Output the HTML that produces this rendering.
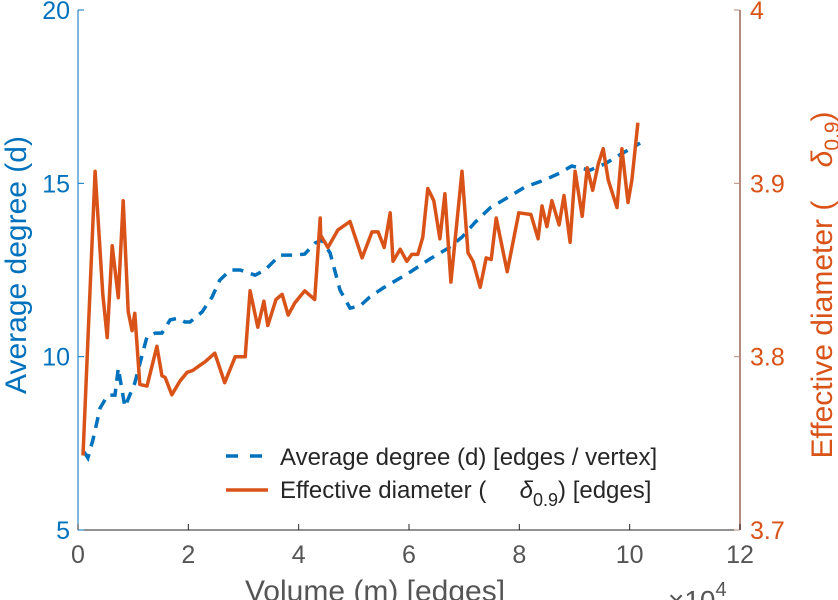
<!DOCTYPE html>
<html><head><meta charset="utf-8"><style>
body{margin:0;background:#fff;}
svg{display:block;font-family:"Liberation Sans",sans-serif;}
</style></head><body>
<svg id="chart" width="838" height="600" viewBox="0 0 838 600"></svg>
<script>
const tickX=[0,2,4,6,8,10,12];
const tickL=[5,10,15,20];
const tickR=[3.7,3.8,3.9,4];
const tickRLabels=["3.7","3.8","3.9","4"];
const degX=[0.11,0.18,0.27,0.40,0.54,0.67,0.73,0.85,1.03,1.21,1.25,1.40,1.52,1.67,1.81,1.94,2.03,2.25,2.43,2.57,2.76,2.94,3.21,3.39,3.66,3.93,4.11,4.30,4.42,4.57,4.75,4.93,5.11,5.29,5.53,5.84,6.05,6.38,6.71,6.96,7.20,7.47,7.83,8.10,8.46,8.74,8.95,9.28,9.55,9.82,10.19];
const degY=[7.25,7.08,7.60,8.52,8.89,8.89,9.67,8.55,9.24,10.34,10.57,10.68,10.68,11.06,11.11,11.00,11.00,11.29,11.72,12.21,12.50,12.50,12.35,12.50,12.93,12.93,12.96,13.28,13.36,12.99,11.92,11.40,11.46,11.72,11.98,12.27,12.47,12.82,13.13,13.45,13.88,14.29,14.63,14.89,15.10,15.30,15.50,15.38,15.56,15.82,16.16];
const diaX=[0.09,0.31,0.45,0.53,0.62,0.73,0.82,0.91,0.98,1.03,1.12,1.25,1.43,1.52,1.58,1.70,1.85,1.98,2.08,2.21,2.30,2.48,2.66,2.85,3.03,3.12,3.26,3.37,3.44,3.59,3.70,3.81,3.93,4.11,4.29,4.39,4.40,4.53,4.71,4.93,5.15,5.33,5.44,5.55,5.66,5.71,5.84,5.96,6.05,6.16,6.25,6.34,6.45,6.56,6.65,6.76,6.96,7.07,7.16,7.29,7.40,7.49,7.58,7.78,7.99,8.21,8.34,8.41,8.50,8.59,8.72,8.81,8.92,9.01,9.14,9.23,9.33,9.43,9.52,9.61,9.66,9.77,9.86,9.97,10.04,10.15,10.24];
const diaY=[3.743,3.907,3.836,3.811,3.864,3.834,3.890,3.826,3.815,3.825,3.784,3.783,3.806,3.789,3.788,3.778,3.786,3.791,3.792,3.795,3.797,3.802,3.785,3.800,3.800,3.838,3.817,3.832,3.818,3.833,3.836,3.824,3.831,3.838,3.833,3.880,3.870,3.863,3.873,3.878,3.857,3.872,3.872,3.863,3.883,3.855,3.862,3.855,3.859,3.859,3.869,3.897,3.890,3.868,3.894,3.843,3.907,3.860,3.855,3.840,3.857,3.856,3.880,3.849,3.883,3.882,3.868,3.887,3.875,3.890,3.876,3.893,3.866,3.907,3.881,3.909,3.896,3.911,3.920,3.902,3.897,3.886,3.920,3.889,3.902,3.935];

const L=78,R=740,T=10,B=530;
const sx=v=>L+(v-0)/(12-0)*(R-L);
const sl=v=>B-(v-5)/(20-5)*(B-T);
const sr=v=>B-(v-3.7)/(4-3.7)*(B-T);
const NS="http://www.w3.org/2000/svg";
const svg=document.getElementById('chart');
function mk(tag,attrs,parent){const e=document.createElementNS(NS,tag);for(const k in attrs)e.setAttribute(k,attrs[k]);(parent||svg).appendChild(e);return e;}
const BLUE="#0072BD",ORANGE="#D95319",GRAY="#262626";

let e=mk('line',{x1:L,y1:B,x2:R,y2:B,stroke:GRAY,'stroke-width':1});


e=mk('line',{x1:L,y1:T,x2:L,y2:B,stroke:BLUE,'stroke-width':1});


e=mk('line',{x1:R,y1:T,x2:R,y2:B,stroke:"#b58a80",'stroke-width':2});



tickX.forEach(v=>{
  mk('line',{x1:sx(v),y1:B,x2:sx(v),y2:B-6,stroke:GRAY});
  const t=mk('text',{x:sx(v),y:B+33,'text-anchor':'middle','font-size':25,fill:"#555"});
  t.textContent=v;
  
  
});
tickL.forEach(v=>{
  mk('line',{x1:L,y1:sl(v),x2:L+6,y2:sl(v),stroke:BLUE});
  const t=mk('text',{x:L-8,y:sl(v)+9,'text-anchor':'end','font-size':25,fill:BLUE});
  t.textContent=v;
  
  
});
tickR.forEach((v,i)=>{
  mk('line',{x1:R,y1:sr(v),x2:R-6,y2:sr(v),stroke:"#b58a80"});
  const t=mk('text',{x:R+10,y:sr(v)+9,'text-anchor':'start','font-size':25,fill:ORANGE});
  t.textContent=tickRLabels[i];
  
  
});

e=mk('text',{x:375,y:601,'text-anchor':'middle','font-size':30,fill:"#555"});
e.textContent="Volume (m) [edges]";


e=mk('text',{x:668,y:610,'font-size':28,fill:"#555"});
e.innerHTML='×10<tspan dy="-14" font-size="20">4</tspan>';


e=mk('text',{x:0,y:0,'text-anchor':'middle','font-size':30,fill:BLUE,transform:`translate(26,265) rotate(-90)`});
e.textContent="Average degree (d)";


e=mk('text',{x:0,y:0,'text-anchor':'middle','font-size':30,fill:ORANGE,transform:`translate(832,285) rotate(-90)`});
e.innerHTML='Effective diameter (&#160;&#160;&#160;&#160;<tspan font-style="italic">δ</tspan><tspan dy="7" font-size="21">0.9</tspan><tspan dy="-7">)</tspan>';



let d=degX.map((x,i)=>(i?'L':'M')+sx(x).toFixed(1)+','+sl(degY[i]).toFixed(1)).join('');
e=mk('path',{d:d,fill:'none',stroke:BLUE,'stroke-width':3.5,'stroke-dasharray':'11,8'});


d=diaX.map((x,i)=>(i?'L':'M')+sx(x).toFixed(1)+','+sr(diaY[i]).toFixed(1)).join('');
e=mk('path',{d:d,fill:'none',stroke:ORANGE,'stroke-width':3.5,'stroke-linejoin':'round'});



const lg=mk('g',{});


mk('line',{x1:226,y1:456,x2:268,y2:456,stroke:BLUE,'stroke-width':3.5,'stroke-dasharray':'12,12'},lg);
let t=mk('text',{x:280,y:465,'font-size':24,fill:GRAY},lg);
t.textContent="Average degree (d) [edges / vertex]";


mk('line',{x1:226,y1:490,x2:268,y2:490,stroke:ORANGE,'stroke-width':3.5},lg);
t=mk('text',{x:280,y:498,'font-size':24,fill:GRAY},lg);
t.innerHTML='Effective diameter (&#160;&#160;&#160;&#160;&#160;<tspan font-style="italic">δ</tspan><tspan dy="8" font-size="18">0.9</tspan><tspan dy="-8">) [edges]</tspan>';


</script>
</body></html>
